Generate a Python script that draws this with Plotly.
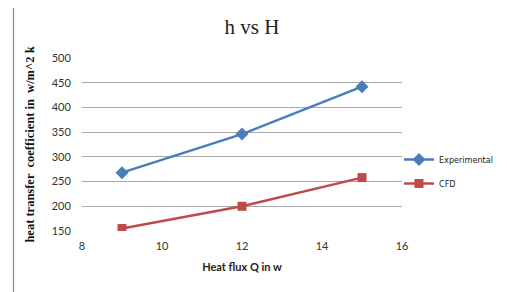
import plotly.graph_objects as go

heat_flux = [9, 12, 15]
experimental = [268, 346, 442]
cfd = [155, 200, 258]
x_ticks = [8, 10, 12, 14, 16]
y_ticks = [150, 200, 250, 300, 350, 400, 450, 500]

fig = go.Figure()
fig.add_trace(go.Scatter(x=heat_flux, y=experimental, name="Experimental", mode="lines+markers",
                         legendgroup="a",
                         line=dict(color="#4A7EBB", width=2.5),
                         marker=dict(symbol="diamond", size=10, color="#4A7EBB")))
fig.add_trace(go.Scatter(x=heat_flux, y=cfd, name="CFD", mode="lines+markers",
                         legendgroup="b",
                         line=dict(color="#BE4B48", width=2.5),
                         marker=dict(symbol="square", size=9, color="#BE4B48")))

OFF = 8  # page body margin
W, H = 507 - OFF, 292 - OFF
L, R, T, B = 82 - OFF, 402 - OFF, 58 - OFF, 231 - OFF

fig.update_layout(
    width=W, height=H,
    margin=dict(l=L, r=W - R, t=T, b=H - B, autoexpand=False),
    paper_bgcolor="white", plot_bgcolor="white",
    title=dict(text="h vs H", x=(252 - OFF) / W, xanchor="center", y=1 - (27 - OFF) / H,
               yanchor="middle",
               font=dict(family="Liberation Serif", size=21, color="#222")),
    xaxis=dict(range=[8, 16], tickvals=x_ticks, showgrid=False, zeroline=False,
               showline=False, ticks="outside", ticklen=5, tickcolor="rgba(0,0,0,0)",
               tickfont=dict(family="Lato", size=11, color="#333"),
               title=dict(text="<b>Heat flux Q in w</b>", standoff=12,
                          font=dict(family="Lato", size=11, color="#222"))),
    yaxis=dict(range=[150, 500], tickvals=y_ticks, showgrid=True, gridcolor="#A8A8A8",
               gridwidth=1, zeroline=False, showline=False,
               ticks="outside", ticklen=8, tickcolor="rgba(0,0,0,0)",
               tickfont=dict(family="Lato", size=11, color="#333"),
               title=dict(text="<b>heat transfer  coefficient in  w/m^2 k</b>", standoff=14,
                          font=dict(family="Liberation Serif", size=12.5, color="#111"))),
    legend=dict(x=(399 - 82) / (R - L), y=(231 - 145) / (B - T), xanchor="left", yanchor="top",
                font=dict(family="DejaVu Sans Condensed", size=9, color="#222"), tracegroupgap=5,
                itemwidth=30, bgcolor="rgba(0,0,0,0)"),
    showlegend=True,
)

fig.add_shape(type="rect", xref="paper", yref="paper",
              x0=(13.5 - 82) / (R - L), x1=(520 - 82) / (R - L),
              y0=(231 - 300) / (B - T), y1=(231 - 2.5) / (B - T),
              line=dict(color="#888", width=1.2), fillcolor="rgba(0,0,0,0)", layer="below")

fig.write_html("out.html")
